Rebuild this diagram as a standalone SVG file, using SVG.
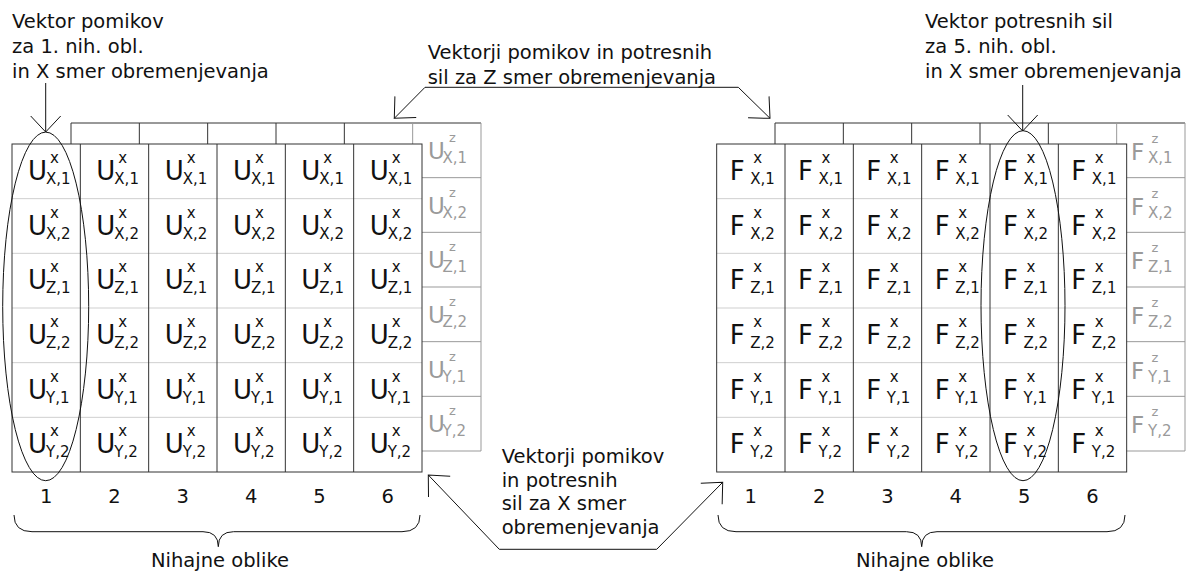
<svg xmlns="http://www.w3.org/2000/svg" width="1189" height="576" viewBox="0 0 1189 576">
<style>
.t{font-family:"DejaVu Sans",Verdana,sans-serif;font-size:19.5px;fill:#111}
.c{font-family:"DejaVu Sans",Verdana,sans-serif;fill:#111}
.g{font-family:"DejaVu Sans",Verdana,sans-serif;fill:#9a9a9a}
.b{font-size:26px}
.gbig{font-size:23px}
.s{font-size:15px}
.gs{font-size:13px}
.ln{stroke:#333;stroke-width:1;fill:none}
.lt{stroke:#cfcfcf;stroke-width:1;fill:none}
.lg{stroke:#999;stroke-width:1;fill:none}
.con{stroke:#111;stroke-width:1;fill:none}
</style>
<defs>
<marker id="ah" markerUnits="userSpaceOnUse" markerWidth="40" markerHeight="40" refX="0" refY="0" orient="auto-start-reverse" overflow="visible">
<path d="M-16,-15 L0,0 L-16,15" fill="none" stroke="#111" stroke-width="1"/>
</marker>
</defs>
<rect width="1189" height="576" fill="#fff"/>

<!-- Labels -->
<g id="label-left">
<text class="t" x="12" y="28">Vektor pomikov</text>
<text class="t" x="12" y="53">za 1. nih. obl.</text>
<text class="t" x="12" y="77.5">in X smer obremenjevanja</text>
</g>
<g id="label-right">
<text class="t" x="925" y="28">Vektor potresnih sil</text>
<text class="t" x="925" y="53">za 5. nih. obl.</text>
<text class="t" x="925" y="77.5">in X smer obremenjevanja</text>
</g>
<g id="label-z">
<text class="t" x="427.7" y="58.5">Vektorji pomikov in potresnih</text>
<text class="t" x="427.7" y="84">sil za Z smer obremenjevanja</text>
</g>
<g id="label-x">
<text class="t" x="501.7" y="463">Vektorji pomikov</text>
<text class="t" x="501.7" y="486.5">in potresnih</text>
<text class="t" x="501.7" y="510">sil za X smer</text>
<text class="t" x="501.7" y="533.5">obremenjevanja</text>
</g>

<!-- Left matrix back layer (Z) -->
<g id="matrixU-z">
<path class="ln" d="M71,144 V123 H481"/>
<path class="ln" d="M139.33,123 V144 M207.67,123 V144 M276,123 V144 M344.33,123 V144"/>
<path class="lg" d="M412.67,123 V144 M481,123 V451 H422 M422,177.67 H481 M422,232.33 H481 M422,287 H481 M422,341.67 H481 M422,396.33 H481"/>
<g transform="translate(412.67,123)">
<text class="g"><tspan class="gbig" x="15.33" y="36">U</tspan><tspan class="gs" x="36.33" y="19">z</tspan><tspan class="s" x="29.83" y="40">X,1</tspan></text>
<text class="g" transform="translate(0,54.667)"><tspan class="gbig" x="15.33" y="36">U</tspan><tspan class="gs" x="36.33" y="19">z</tspan><tspan class="s" x="29.83" y="40">X,2</tspan></text>
<text class="g" transform="translate(0,109.333)"><tspan class="gbig" x="15.33" y="36">U</tspan><tspan class="gs" x="36.33" y="19">z</tspan><tspan class="s" x="29.83" y="40">Z,1</tspan></text>
<text class="g" transform="translate(0,164)"><tspan class="gbig" x="15.33" y="36">U</tspan><tspan class="gs" x="36.33" y="19">z</tspan><tspan class="s" x="29.83" y="40">Z,2</tspan></text>
<text class="g" transform="translate(0,218.667)"><tspan class="gbig" x="15.33" y="36">U</tspan><tspan class="gs" x="36.33" y="19">z</tspan><tspan class="s" x="29.83" y="40">Y,1</tspan></text>
<text class="g" transform="translate(0,273.333)"><tspan class="gbig" x="15.33" y="36">U</tspan><tspan class="gs" x="36.33" y="19">z</tspan><tspan class="s" x="29.83" y="40">Y,2</tspan></text>
</g>
</g>

<!-- Left matrix front layer (X) -->
<g id="matrixU-x">
<path class="lt" d="M12,198.67 H422 M12,253.33 H422 M12,308 H422 M12,362.67 H422 M12,417.33 H422"/>
<path class="ln" d="M80.33,144 V472 M148.67,144 V472 M217,144 V472 M285.33,144 V472 M353.67,144 V472"/>
<rect class="ln" x="12" y="144" width="410" height="328"/>
<g transform="translate(12,144)">
<g>
<text class="c"><tspan class="b" x="16" y="36">U</tspan><tspan class="s" x="38" y="19">x</tspan><tspan class="s" x="34" y="40">X,1</tspan></text>
<text class="c" transform="translate(68.333,0)"><tspan class="b" x="16" y="36">U</tspan><tspan class="s" x="38" y="19">x</tspan><tspan class="s" x="34" y="40">X,1</tspan></text>
<text class="c" transform="translate(136.667,0)"><tspan class="b" x="16" y="36">U</tspan><tspan class="s" x="38" y="19">x</tspan><tspan class="s" x="34" y="40">X,1</tspan></text>
<text class="c" transform="translate(205,0)"><tspan class="b" x="16" y="36">U</tspan><tspan class="s" x="38" y="19">x</tspan><tspan class="s" x="34" y="40">X,1</tspan></text>
<text class="c" transform="translate(273.333,0)"><tspan class="b" x="16" y="36">U</tspan><tspan class="s" x="38" y="19">x</tspan><tspan class="s" x="34" y="40">X,1</tspan></text>
<text class="c" transform="translate(341.667,0)"><tspan class="b" x="16" y="36">U</tspan><tspan class="s" x="38" y="19">x</tspan><tspan class="s" x="34" y="40">X,1</tspan></text>
</g>
<g transform="translate(0,54.667)">
<text class="c"><tspan class="b" x="16" y="36">U</tspan><tspan class="s" x="38" y="19">x</tspan><tspan class="s" x="34" y="40">X,2</tspan></text>
<text class="c" transform="translate(68.333,0)"><tspan class="b" x="16" y="36">U</tspan><tspan class="s" x="38" y="19">x</tspan><tspan class="s" x="34" y="40">X,2</tspan></text>
<text class="c" transform="translate(136.667,0)"><tspan class="b" x="16" y="36">U</tspan><tspan class="s" x="38" y="19">x</tspan><tspan class="s" x="34" y="40">X,2</tspan></text>
<text class="c" transform="translate(205,0)"><tspan class="b" x="16" y="36">U</tspan><tspan class="s" x="38" y="19">x</tspan><tspan class="s" x="34" y="40">X,2</tspan></text>
<text class="c" transform="translate(273.333,0)"><tspan class="b" x="16" y="36">U</tspan><tspan class="s" x="38" y="19">x</tspan><tspan class="s" x="34" y="40">X,2</tspan></text>
<text class="c" transform="translate(341.667,0)"><tspan class="b" x="16" y="36">U</tspan><tspan class="s" x="38" y="19">x</tspan><tspan class="s" x="34" y="40">X,2</tspan></text>
</g>
<g transform="translate(0,109.333)">
<text class="c"><tspan class="b" x="16" y="36">U</tspan><tspan class="s" x="38" y="19">x</tspan><tspan class="s" x="34" y="40">Z,1</tspan></text>
<text class="c" transform="translate(68.333,0)"><tspan class="b" x="16" y="36">U</tspan><tspan class="s" x="38" y="19">x</tspan><tspan class="s" x="34" y="40">Z,1</tspan></text>
<text class="c" transform="translate(136.667,0)"><tspan class="b" x="16" y="36">U</tspan><tspan class="s" x="38" y="19">x</tspan><tspan class="s" x="34" y="40">Z,1</tspan></text>
<text class="c" transform="translate(205,0)"><tspan class="b" x="16" y="36">U</tspan><tspan class="s" x="38" y="19">x</tspan><tspan class="s" x="34" y="40">Z,1</tspan></text>
<text class="c" transform="translate(273.333,0)"><tspan class="b" x="16" y="36">U</tspan><tspan class="s" x="38" y="19">x</tspan><tspan class="s" x="34" y="40">Z,1</tspan></text>
<text class="c" transform="translate(341.667,0)"><tspan class="b" x="16" y="36">U</tspan><tspan class="s" x="38" y="19">x</tspan><tspan class="s" x="34" y="40">Z,1</tspan></text>
</g>
<g transform="translate(0,164)">
<text class="c"><tspan class="b" x="16" y="36">U</tspan><tspan class="s" x="38" y="19">x</tspan><tspan class="s" x="34" y="40">Z,2</tspan></text>
<text class="c" transform="translate(68.333,0)"><tspan class="b" x="16" y="36">U</tspan><tspan class="s" x="38" y="19">x</tspan><tspan class="s" x="34" y="40">Z,2</tspan></text>
<text class="c" transform="translate(136.667,0)"><tspan class="b" x="16" y="36">U</tspan><tspan class="s" x="38" y="19">x</tspan><tspan class="s" x="34" y="40">Z,2</tspan></text>
<text class="c" transform="translate(205,0)"><tspan class="b" x="16" y="36">U</tspan><tspan class="s" x="38" y="19">x</tspan><tspan class="s" x="34" y="40">Z,2</tspan></text>
<text class="c" transform="translate(273.333,0)"><tspan class="b" x="16" y="36">U</tspan><tspan class="s" x="38" y="19">x</tspan><tspan class="s" x="34" y="40">Z,2</tspan></text>
<text class="c" transform="translate(341.667,0)"><tspan class="b" x="16" y="36">U</tspan><tspan class="s" x="38" y="19">x</tspan><tspan class="s" x="34" y="40">Z,2</tspan></text>
</g>
<g transform="translate(0,218.667)">
<text class="c"><tspan class="b" x="16" y="36">U</tspan><tspan class="s" x="38" y="19">x</tspan><tspan class="s" x="34" y="40">Y,1</tspan></text>
<text class="c" transform="translate(68.333,0)"><tspan class="b" x="16" y="36">U</tspan><tspan class="s" x="38" y="19">x</tspan><tspan class="s" x="34" y="40">Y,1</tspan></text>
<text class="c" transform="translate(136.667,0)"><tspan class="b" x="16" y="36">U</tspan><tspan class="s" x="38" y="19">x</tspan><tspan class="s" x="34" y="40">Y,1</tspan></text>
<text class="c" transform="translate(205,0)"><tspan class="b" x="16" y="36">U</tspan><tspan class="s" x="38" y="19">x</tspan><tspan class="s" x="34" y="40">Y,1</tspan></text>
<text class="c" transform="translate(273.333,0)"><tspan class="b" x="16" y="36">U</tspan><tspan class="s" x="38" y="19">x</tspan><tspan class="s" x="34" y="40">Y,1</tspan></text>
<text class="c" transform="translate(341.667,0)"><tspan class="b" x="16" y="36">U</tspan><tspan class="s" x="38" y="19">x</tspan><tspan class="s" x="34" y="40">Y,1</tspan></text>
</g>
<g transform="translate(0,273.333)">
<text class="c"><tspan class="b" x="16" y="36">U</tspan><tspan class="s" x="38" y="19">x</tspan><tspan class="s" x="34" y="40">Y,2</tspan></text>
<text class="c" transform="translate(68.333,0)"><tspan class="b" x="16" y="36">U</tspan><tspan class="s" x="38" y="19">x</tspan><tspan class="s" x="34" y="40">Y,2</tspan></text>
<text class="c" transform="translate(136.667,0)"><tspan class="b" x="16" y="36">U</tspan><tspan class="s" x="38" y="19">x</tspan><tspan class="s" x="34" y="40">Y,2</tspan></text>
<text class="c" transform="translate(205,0)"><tspan class="b" x="16" y="36">U</tspan><tspan class="s" x="38" y="19">x</tspan><tspan class="s" x="34" y="40">Y,2</tspan></text>
<text class="c" transform="translate(273.333,0)"><tspan class="b" x="16" y="36">U</tspan><tspan class="s" x="38" y="19">x</tspan><tspan class="s" x="34" y="40">Y,2</tspan></text>
<text class="c" transform="translate(341.667,0)"><tspan class="b" x="16" y="36">U</tspan><tspan class="s" x="38" y="19">x</tspan><tspan class="s" x="34" y="40">Y,2</tspan></text>
</g>
</g>
</g>

<!-- Right matrix back layer (Z) -->
<g id="matrixF-z">
<path class="ln" d="M775,144 V123 H1185"/>
<path class="ln" d="M843.33,123 V144 M911.67,123 V144 M980,123 V144 M1048.33,123 V144"/>
<path class="lg" d="M1116.67,123 V144 M1185,123 V451 H1126.67 M1126.67,177.67 H1185 M1126.67,232.33 H1185 M1126.67,287 H1185 M1126.67,341.67 H1185 M1126.67,396.33 H1185"/>
<g transform="translate(1116.67,123)">
<text class="g"><tspan class="gbig" x="14.33" y="37">F</tspan><tspan class="gs" x="34.83" y="20">z</tspan><tspan class="s" x="31.33" y="40">X,1</tspan></text>
<text class="g" transform="translate(0,54.667)"><tspan class="gbig" x="14.33" y="37">F</tspan><tspan class="gs" x="34.83" y="20">z</tspan><tspan class="s" x="31.33" y="40">X,2</tspan></text>
<text class="g" transform="translate(0,109.333)"><tspan class="gbig" x="14.33" y="37">F</tspan><tspan class="gs" x="34.83" y="20">z</tspan><tspan class="s" x="31.33" y="40">Z,1</tspan></text>
<text class="g" transform="translate(0,164)"><tspan class="gbig" x="14.33" y="37">F</tspan><tspan class="gs" x="34.83" y="20">z</tspan><tspan class="s" x="31.33" y="40">Z,2</tspan></text>
<text class="g" transform="translate(0,218.667)"><tspan class="gbig" x="14.33" y="37">F</tspan><tspan class="gs" x="34.83" y="20">z</tspan><tspan class="s" x="31.33" y="40">Y,1</tspan></text>
<text class="g" transform="translate(0,273.333)"><tspan class="gbig" x="14.33" y="37">F</tspan><tspan class="gs" x="34.83" y="20">z</tspan><tspan class="s" x="31.33" y="40">Y,2</tspan></text>
</g>
</g>

<!-- Right matrix front layer (X) -->
<g id="matrixF-x">
<path class="lt" d="M716.67,198.67 H1126.67 M716.67,253.33 H1126.67 M716.67,308 H1126.67 M716.67,362.67 H1126.67 M716.67,417.33 H1126.67"/>
<path class="ln" d="M785,144 V472 M853.33,144 V472 M921.67,144 V472 M990,144 V472 M1058.33,144 V472"/>
<rect class="ln" x="716.67" y="144" width="410" height="328"/>
<g transform="translate(716.67,144)">
<g>
<text class="c"><tspan class="b" x="13" y="36">F</tspan><tspan class="s" x="36.5" y="19">x</tspan><tspan class="s" x="33.5" y="40">X,1</tspan></text>
<text class="c" transform="translate(68.333,0)"><tspan class="b" x="13" y="36">F</tspan><tspan class="s" x="36.5" y="19">x</tspan><tspan class="s" x="33.5" y="40">X,1</tspan></text>
<text class="c" transform="translate(136.667,0)"><tspan class="b" x="13" y="36">F</tspan><tspan class="s" x="36.5" y="19">x</tspan><tspan class="s" x="33.5" y="40">X,1</tspan></text>
<text class="c" transform="translate(205,0)"><tspan class="b" x="13" y="36">F</tspan><tspan class="s" x="36.5" y="19">x</tspan><tspan class="s" x="33.5" y="40">X,1</tspan></text>
<text class="c" transform="translate(273.333,0)"><tspan class="b" x="13" y="36">F</tspan><tspan class="s" x="36.5" y="19">x</tspan><tspan class="s" x="33.5" y="40">X,1</tspan></text>
<text class="c" transform="translate(341.667,0)"><tspan class="b" x="13" y="36">F</tspan><tspan class="s" x="36.5" y="19">x</tspan><tspan class="s" x="33.5" y="40">X,1</tspan></text>
</g>
<g transform="translate(0,54.667)">
<text class="c"><tspan class="b" x="13" y="36">F</tspan><tspan class="s" x="36.5" y="19">x</tspan><tspan class="s" x="33.5" y="40">X,2</tspan></text>
<text class="c" transform="translate(68.333,0)"><tspan class="b" x="13" y="36">F</tspan><tspan class="s" x="36.5" y="19">x</tspan><tspan class="s" x="33.5" y="40">X,2</tspan></text>
<text class="c" transform="translate(136.667,0)"><tspan class="b" x="13" y="36">F</tspan><tspan class="s" x="36.5" y="19">x</tspan><tspan class="s" x="33.5" y="40">X,2</tspan></text>
<text class="c" transform="translate(205,0)"><tspan class="b" x="13" y="36">F</tspan><tspan class="s" x="36.5" y="19">x</tspan><tspan class="s" x="33.5" y="40">X,2</tspan></text>
<text class="c" transform="translate(273.333,0)"><tspan class="b" x="13" y="36">F</tspan><tspan class="s" x="36.5" y="19">x</tspan><tspan class="s" x="33.5" y="40">X,2</tspan></text>
<text class="c" transform="translate(341.667,0)"><tspan class="b" x="13" y="36">F</tspan><tspan class="s" x="36.5" y="19">x</tspan><tspan class="s" x="33.5" y="40">X,2</tspan></text>
</g>
<g transform="translate(0,109.333)">
<text class="c"><tspan class="b" x="13" y="36">F</tspan><tspan class="s" x="36.5" y="19">x</tspan><tspan class="s" x="33.5" y="40">Z,1</tspan></text>
<text class="c" transform="translate(68.333,0)"><tspan class="b" x="13" y="36">F</tspan><tspan class="s" x="36.5" y="19">x</tspan><tspan class="s" x="33.5" y="40">Z,1</tspan></text>
<text class="c" transform="translate(136.667,0)"><tspan class="b" x="13" y="36">F</tspan><tspan class="s" x="36.5" y="19">x</tspan><tspan class="s" x="33.5" y="40">Z,1</tspan></text>
<text class="c" transform="translate(205,0)"><tspan class="b" x="13" y="36">F</tspan><tspan class="s" x="36.5" y="19">x</tspan><tspan class="s" x="33.5" y="40">Z,1</tspan></text>
<text class="c" transform="translate(273.333,0)"><tspan class="b" x="13" y="36">F</tspan><tspan class="s" x="36.5" y="19">x</tspan><tspan class="s" x="33.5" y="40">Z,1</tspan></text>
<text class="c" transform="translate(341.667,0)"><tspan class="b" x="13" y="36">F</tspan><tspan class="s" x="36.5" y="19">x</tspan><tspan class="s" x="33.5" y="40">Z,1</tspan></text>
</g>
<g transform="translate(0,164)">
<text class="c"><tspan class="b" x="13" y="36">F</tspan><tspan class="s" x="36.5" y="19">x</tspan><tspan class="s" x="33.5" y="40">Z,2</tspan></text>
<text class="c" transform="translate(68.333,0)"><tspan class="b" x="13" y="36">F</tspan><tspan class="s" x="36.5" y="19">x</tspan><tspan class="s" x="33.5" y="40">Z,2</tspan></text>
<text class="c" transform="translate(136.667,0)"><tspan class="b" x="13" y="36">F</tspan><tspan class="s" x="36.5" y="19">x</tspan><tspan class="s" x="33.5" y="40">Z,2</tspan></text>
<text class="c" transform="translate(205,0)"><tspan class="b" x="13" y="36">F</tspan><tspan class="s" x="36.5" y="19">x</tspan><tspan class="s" x="33.5" y="40">Z,2</tspan></text>
<text class="c" transform="translate(273.333,0)"><tspan class="b" x="13" y="36">F</tspan><tspan class="s" x="36.5" y="19">x</tspan><tspan class="s" x="33.5" y="40">Z,2</tspan></text>
<text class="c" transform="translate(341.667,0)"><tspan class="b" x="13" y="36">F</tspan><tspan class="s" x="36.5" y="19">x</tspan><tspan class="s" x="33.5" y="40">Z,2</tspan></text>
</g>
<g transform="translate(0,218.667)">
<text class="c"><tspan class="b" x="13" y="36">F</tspan><tspan class="s" x="36.5" y="19">x</tspan><tspan class="s" x="33.5" y="40">Y,1</tspan></text>
<text class="c" transform="translate(68.333,0)"><tspan class="b" x="13" y="36">F</tspan><tspan class="s" x="36.5" y="19">x</tspan><tspan class="s" x="33.5" y="40">Y,1</tspan></text>
<text class="c" transform="translate(136.667,0)"><tspan class="b" x="13" y="36">F</tspan><tspan class="s" x="36.5" y="19">x</tspan><tspan class="s" x="33.5" y="40">Y,1</tspan></text>
<text class="c" transform="translate(205,0)"><tspan class="b" x="13" y="36">F</tspan><tspan class="s" x="36.5" y="19">x</tspan><tspan class="s" x="33.5" y="40">Y,1</tspan></text>
<text class="c" transform="translate(273.333,0)"><tspan class="b" x="13" y="36">F</tspan><tspan class="s" x="36.5" y="19">x</tspan><tspan class="s" x="33.5" y="40">Y,1</tspan></text>
<text class="c" transform="translate(341.667,0)"><tspan class="b" x="13" y="36">F</tspan><tspan class="s" x="36.5" y="19">x</tspan><tspan class="s" x="33.5" y="40">Y,1</tspan></text>
</g>
<g transform="translate(0,273.333)">
<text class="c"><tspan class="b" x="13" y="36">F</tspan><tspan class="s" x="36.5" y="19">x</tspan><tspan class="s" x="33.5" y="40">Y,2</tspan></text>
<text class="c" transform="translate(68.333,0)"><tspan class="b" x="13" y="36">F</tspan><tspan class="s" x="36.5" y="19">x</tspan><tspan class="s" x="33.5" y="40">Y,2</tspan></text>
<text class="c" transform="translate(136.667,0)"><tspan class="b" x="13" y="36">F</tspan><tspan class="s" x="36.5" y="19">x</tspan><tspan class="s" x="33.5" y="40">Y,2</tspan></text>
<text class="c" transform="translate(205,0)"><tspan class="b" x="13" y="36">F</tspan><tspan class="s" x="36.5" y="19">x</tspan><tspan class="s" x="33.5" y="40">Y,2</tspan></text>
<text class="c" transform="translate(273.333,0)"><tspan class="b" x="13" y="36">F</tspan><tspan class="s" x="36.5" y="19">x</tspan><tspan class="s" x="33.5" y="40">Y,2</tspan></text>
<text class="c" transform="translate(341.667,0)"><tspan class="b" x="13" y="36">F</tspan><tspan class="s" x="36.5" y="19">x</tspan><tspan class="s" x="33.5" y="40">Y,2</tspan></text>
</g>
</g>
</g>

<!-- Column numbers and braces -->
<g id="numbers-left" class="t" text-anchor="middle">
<text x="46.2" y="503">1</text><text x="114.5" y="503">2</text><text x="182.8" y="503">3</text><text x="251.2" y="503">4</text><text x="319.5" y="503">5</text><text x="387.8" y="503">6</text>
</g>
<g id="numbers-right" class="t" text-anchor="middle">
<text x="750.8" y="503">1</text><text x="819.2" y="503">2</text><text x="887.5" y="503">3</text><text x="955.8" y="503">4</text><text x="1024.2" y="503">5</text><text x="1092.5" y="503">6</text>
</g>
<g id="brace-left">
<path class="con" d="M14,515 Q14,531.7 32,531.7 L203,531.7 Q218.3,531.7 218.3,546.7 Q218.3,531.7 233.6,531.7 L402,531.7 Q420,531.7 420,515"/>
<text class="t" x="220" y="567" text-anchor="middle">Nihajne oblike</text>
</g>
<g id="brace-right">
<path class="con" d="M718,515 Q718,531.7 736,531.7 L906.4,531.7 Q921.7,531.7 921.7,546.7 Q921.7,531.7 937,531.7 L1107,531.7 Q1125,531.7 1125,515"/>
<text class="t" x="925" y="567" text-anchor="middle">Nihajne oblike</text>
</g>

<!-- Connectors -->
<g id="connectors">
<ellipse class="con" cx="45.7" cy="306.4" rx="43" ry="174.3"/>
<ellipse class="con" cx="1023" cy="305.7" rx="42" ry="175"/>
<path class="con" d="M45.7,83 V132" marker-end="url(#ah)"/>
<path class="con" d="M1022.7,85 V131" marker-end="url(#ah)"/>
<path class="con" d="M394.3,118.3 L425,87.3 H738.3 L770,118.3" marker-start="url(#ah)" marker-end="url(#ah)"/>
<path class="con" d="M428.3,475 L499.3,549.3 H656.7 L722.7,482.3" marker-start="url(#ah)" marker-end="url(#ah)"/>
</g>
</svg>
